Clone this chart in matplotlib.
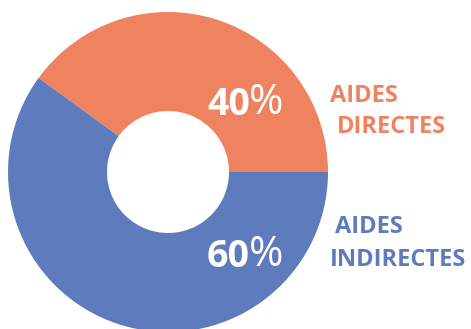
import matplotlib
matplotlib.use("Agg")
import matplotlib.pyplot as plt

# Share of aid types
labels = ["AIDES\n DIRECTES", "AIDES\nINDIRECTES"]
shares = [40, 60]
colors = ["#F0835F", "#5D7BBD"]

W, H = 471, 329
fig = plt.figure(figsize=(W / 100, H / 100), dpi=100)
ax = fig.add_axes([0, 0, 1, 1])

# donut drawn in pixel-like data units
cx, cy, r_out, r_in = 168, H - 172, 160, 61
ax.pie(shares, colors=colors, startangle=0, counterclock=True,
       center=(cx, cy), radius=r_out,
       wedgeprops=dict(width=r_out - r_in, linewidth=0))
ax.set_xlim(0, W)
ax.set_ylim(0, H)
ax.set_aspect("equal")
ax.set_axis_off()

font = "Open Sans"

# percentage labels: bold number, light percent sign right after it
pct_pos = [(207, H - 115), (207, H - 267)]
for val, (x, y) in zip(shares, pct_pos):
    t = ax.text(x, y, f"{val}", fontsize=27, fontweight="bold", color="white",
                family=font, ha="left", va="baseline")
    ax.annotate("%", xy=(1, 0), xycoords=t, xytext=(-1, 0), textcoords="offset points",
                fontsize=30, fontweight="normal", color="white",
                family=font, ha="left", va="bottom")

# category labels beside the ring
label_kw = dict(fontsize=17, fontweight="bold", family=font, ha="left", va="baseline")
ax.text(330, H - 102, "AIDES", color=colors[0], **label_kw)
ax.text(337, H - 133, "DIRECTES", color=colors[0], **label_kw)
ax.text(335, H - 233, "AIDES", color=colors[1], **label_kw)
ax.text(330, H - 266, "INDIRECTES", color=colors[1], **label_kw)

fig.savefig("out.png", dpi=100)
